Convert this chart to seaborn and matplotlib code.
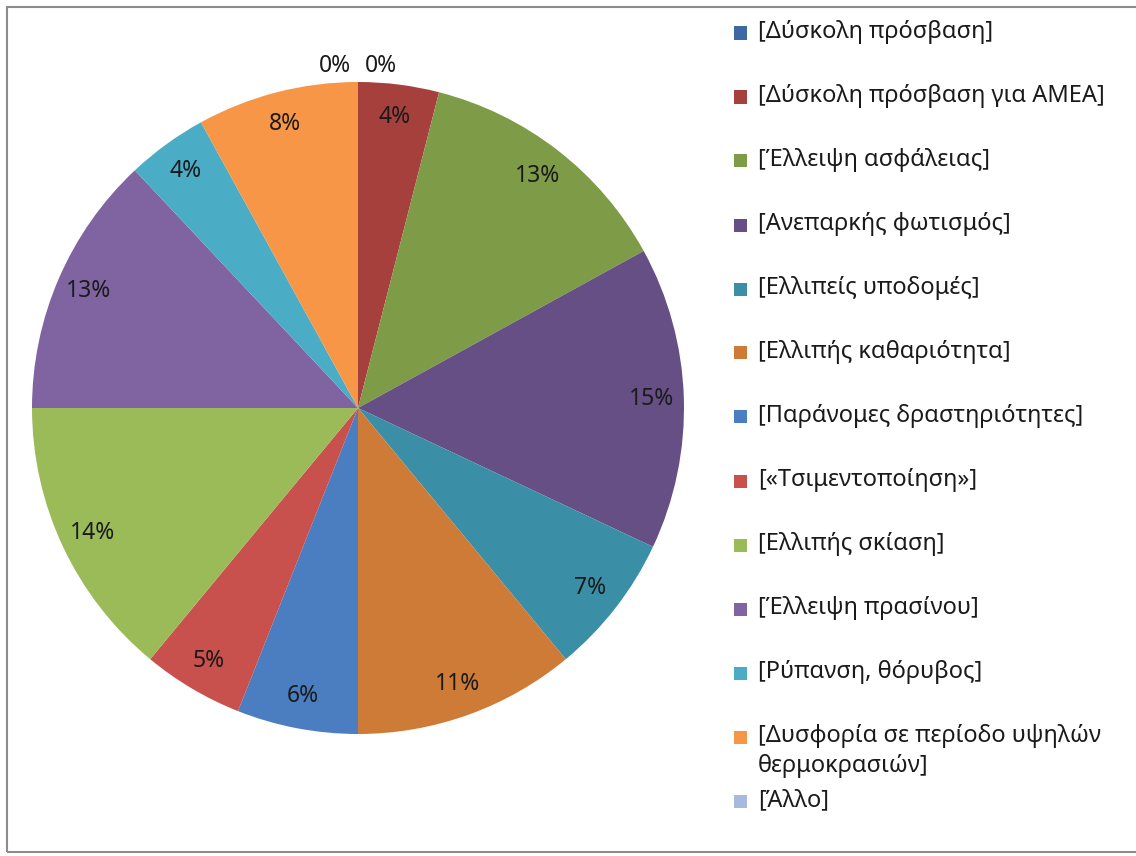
import matplotlib
matplotlib.use("Agg")
import matplotlib.pyplot as plt
import seaborn as sns
from matplotlib.patches import Rectangle

# Data
categories = [
    "[Δύσκολη πρόσβαση]",
    "[Δύσκολη πρόσβαση για ΑΜΕΑ]",
    "[Έλλειψη ασφάλειας]",
    "[Ανεπαρκής φωτισμός]",
    "[Ελλιπείς υποδομές]",
    "[Ελλιπής καθαριότητα]",
    "[Παράνομες δραστηριότητες]",
    "[«Τσιμεντοποίηση»]",
    "[Ελλιπής σκίαση]",
    "[Έλλειψη πρασίνου]",
    "[Ρύπανση, θόρυβος]",
    "[Δυσφορία σε περίοδο υψηλών\nθερμοκρασιών]",
    "[Άλλο]",
]
percentages = [0, 4, 13, 15, 7, 11, 6, 5, 14, 13, 4, 8, 0]
colors = [
    "#3d68a3", "#a5403d", "#7e9b47", "#664f84", "#3a8ea6", "#cd7b37",
    "#4a7ec0", "#c8504d", "#9bbb59", "#8064a2", "#4bacc6", "#f79646",
    "#a7b9dd",
]

sns.set_theme(style="white")
plt.rcParams["font.family"] = ["Noto Sans", "DejaVu Sans"]

W, H = 1136, 856
fig = plt.figure(figsize=(W / 100, H / 100), dpi=100)

# pie placement (pixels): center (358, 408), radius 326
cx, cy, r = 358, 408, 326
ax = fig.add_axes([(cx - r) / W, (H - cy - r) / H, 2 * r / W, 2 * r / H])

wedges, texts, autotexts = ax.pie(
    percentages,
    colors=colors,
    startangle=90,
    counterclock=False,
    autopct=lambda p: f"{p:.0f}%",
    pctdistance=0.9,
    wedgeprops=dict(linewidth=0),
    textprops=dict(fontsize=16.5, color="#1a1a1a"),
)
ax.set_xlim(-1, 1)
ax.set_ylim(-1, 1)

# zero-size slices get their label just outside the top of the pie
for i, (val, t) in enumerate(zip(percentages, autotexts)):
    if val == 0:
        side = 1 if i == 0 else -1
        t.set_position((0.07 * side, 1.05))

# legend column on the right
leg_y = [33 + 64 * i for i in range(12)] + [801]
for cat, col, y in zip(categories, colors, leg_y):
    fig.add_artist(Rectangle((734 / W, 1 - (y + 6.5) / H), 13 / W, 13 / H,
                             transform=fig.transFigure, facecolor=col,
                             edgecolor="none"))
    fig.text(758 / W, 1 - (y - 13) / H, cat, fontsize=17, color="#1a1a1a",
             ha="left", va="top", linespacing=1.35)

# chart frame
fig.add_artist(Rectangle((7 / W, 1 - 852 / H), 1140 / W, 845 / H,
                         transform=fig.transFigure, facecolor="none",
                         edgecolor="#8c8c8c", linewidth=1.5))

plt.savefig("out.png", dpi=100)
